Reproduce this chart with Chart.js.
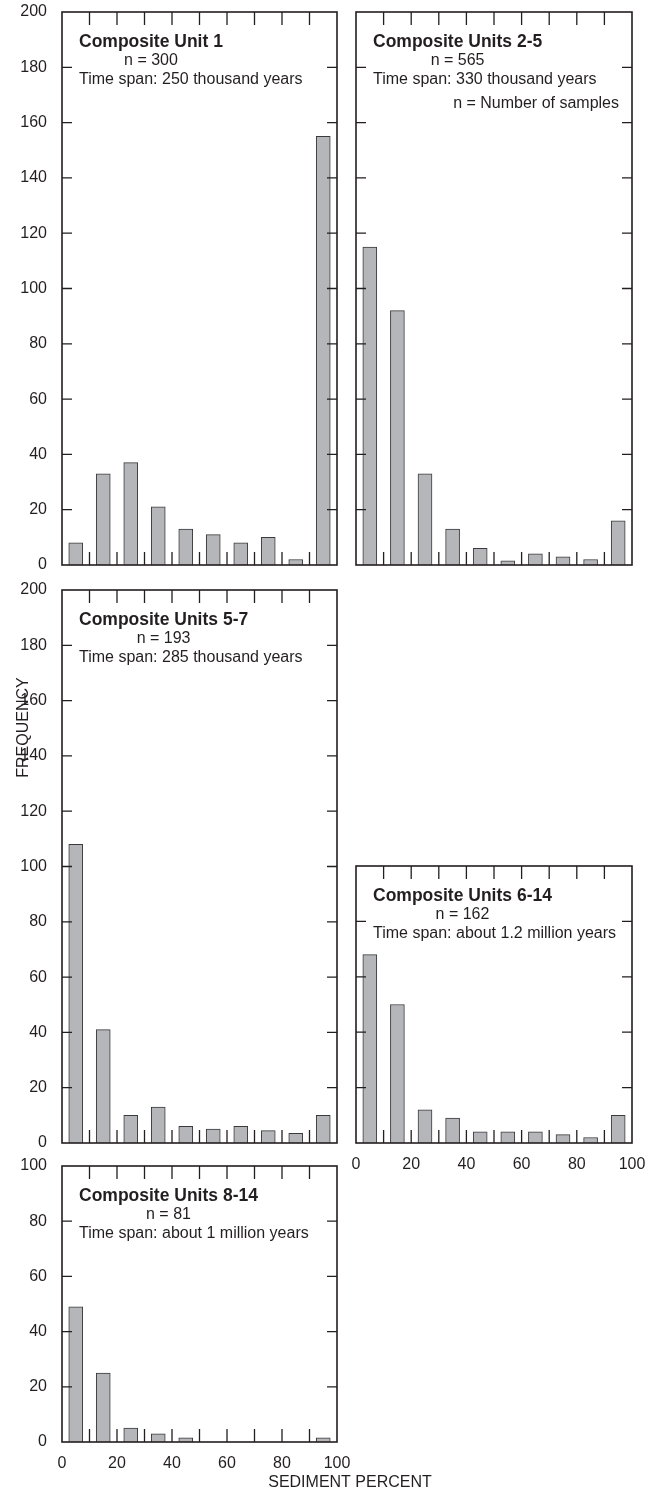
<!DOCTYPE html>
<html>
<head>
<meta charset="utf-8">
<title>Sediment percent frequency</title>
<script src="https://cdn.jsdelivr.net/npm/chart.js@4.4.1/dist/chart.umd.min.js"></script>
<style>
  body { margin: 0; background: #fff; }
  #fig { position: relative; width: 652px; height: 1496px; }
  #fig canvas { position: absolute; }
</style>
</head>
<body>
<div id="fig">
  <canvas id="unit1" width="345" height="580" style="left:0;top:0"></canvas>
  <canvas id="units2to5" width="307" height="580" style="left:345px;top:0"></canvas>
  <canvas id="units5to7" width="345" height="575" style="left:0;top:580px"></canvas>
  <canvas id="units6to14" width="307" height="330" style="left:345px;top:850px"></canvas>
  <canvas id="units8to14" width="652" height="341" style="left:0;top:1155px"></canvas>
</div>
<script>
// sediment percent classes (bin midpoints) and sample counts per class
const bins = [5, 15, 25, 35, 45, 55, 65, 75, 85, 95];
const unit1 = [8, 33, 37, 21, 13, 11, 8, 10, 2, 155];
const units2to5 = [115, 92, 33, 13, 6, 1.5, 4, 3, 2, 16];
const units5to7 = [108, 41, 10, 13, 6, 5, 6, 4.5, 3.5, 10];
const units6to14 = [68, 50, 12, 9, 4, 4, 4, 3, 2, 10];
const units8to14 = [49, 25, 5, 3, 1.5, 0, 0, 0, 0, 1.5];

const titles = ['Composite Unit 1', 'Composite Units 2-5', 'Composite Units 5-7',
  'Composite Units 6-14', 'Composite Units 8-14'];
const sampleCounts = [300, 565, 193, 162, 81];
const timeSpans = ['Time span: 250 thousand years', 'Time span: 330 thousand years',
  'Time span: 285 thousand years', 'Time span: about 1.2 million years',
  'Time span: about 1 million years'];

const INK = '#231f20';
const FONT = "'Liberation Sans', Arial, sans-serif";
Chart.defaults.font.family = FONT;
Chart.defaults.font.size = 16;
Chart.defaults.color = INK;

// box around the plot, inward tick marks and the panel captions
const frame = {
  id: 'frame',
  afterDatasetsDraw(chart, args, opts) {
    const ctx = chart.ctx;
    const a = chart.chartArea;
    const x = chart.scales.x, y = chart.scales.y;
    ctx.save();
    ctx.strokeStyle = INK;
    ctx.lineWidth = 1.3;
    ctx.beginPath();
    for (let v = 10; v < 100; v += 10) {
      const px = x.getPixelForValue(v);
      ctx.moveTo(px, a.top); ctx.lineTo(px, a.top + 13);
      ctx.moveTo(px, a.bottom); ctx.lineTo(px, a.bottom - 13);
    }
    y.ticks.forEach(t => {
      if (t.value <= y.min || t.value >= y.max) return;
      const py = y.getPixelForValue(t.value);
      ctx.moveTo(a.left, py); ctx.lineTo(a.left + 10, py);
      ctx.moveTo(a.right, py); ctx.lineTo(a.right - 10, py);
    });
    ctx.stroke();
    ctx.lineWidth = 1.6;
    ctx.strokeRect(a.left, a.top, a.right - a.left, a.bottom - a.top);

    ctx.fillStyle = INK;
    const tx = a.left + 17;
    ctx.font = 'bold 17.5px ' + FONT;
    ctx.textAlign = 'left';
    ctx.fillText(opts.title, tx, a.top + 35);
    const tw = ctx.measureText(opts.title).width;
    ctx.font = '16px ' + FONT;
    ctx.textAlign = 'center';
    ctx.fillText('n = ' + opts.n, tx + tw / 2, a.top + 53);
    ctx.textAlign = 'left';
    ctx.fillText(opts.span, tx, a.top + 72);
    if (opts.note) {
      ctx.textAlign = 'right';
      ctx.fillText(opts.note, a.right - 13, a.top + 96);
    }
    if (opts.yTitle) {
      ctx.save();
      ctx.translate(opts.yTitle.x, opts.yTitle.y);
      ctx.rotate(-Math.PI / 2);
      ctx.textAlign = 'center';
      ctx.textBaseline = 'middle';
      ctx.fillText(opts.yTitle.text, 0, 0);
      ctx.restore();
    }
    if (opts.xTitle) {
      ctx.textAlign = 'center';
      ctx.textBaseline = 'middle';
      ctx.fillText(opts.xTitle.text, opts.xTitle.x, opts.xTitle.y);
    }
    ctx.restore();
  }
};

function makePanel(id, counts, p) {
  return new Chart(document.getElementById(id), {
    type: 'bar',
    data: {
      datasets: [{
        data: bins.map((b, i) => ({ x: b, y: counts[i] })),
        backgroundColor: '#b5b6ba',
        borderColor: '#3a3a3c',
        borderWidth: 1,
        barThickness: 14
      }]
    },
    options: {
      responsive: false,
      animation: false,
      layout: { padding: p.pad },
      plugins: {
        legend: { display: false },
        tooltip: { enabled: false },
        frame: p.text
      },
      scales: {
        x: {
          type: 'linear', min: 0, max: 100, offset: false,
          display: p.xLabels,
          grid: { display: false },
          border: { display: false },
          ticks: { stepSize: 20, padding: 4, maxRotation: 0 },
          afterFit: s => {
            if (!p.xLabels) return;
            s.height = p.xHeight;
            s.paddingLeft = 0; s.paddingRight = 0;
          }
        },
        y: {
          type: 'linear', min: 0, max: p.yMax,
          display: p.yLabels,
          grid: { display: false },
          border: { display: false },
          ticks: { stepSize: 20, padding: 7 },
          afterFit: s => {
            if (!p.yLabels) return;
            s.width = 62;
            s.paddingTop = 0; s.paddingBottom = 0;
          }
        }
      }
    },
    plugins: [frame]
  });
}

makePanel('unit1', unit1, {
  yMax: 200, yLabels: true, xLabels: false,
  pad: { left: 0, right: 8, top: 12, bottom: 15 },
  text: { title: titles[0], n: sampleCounts[0], span: timeSpans[0] }
});
makePanel('units2to5', units2to5, {
  yMax: 200, yLabels: false, xLabels: false,
  pad: { left: 11, right: 20, top: 12, bottom: 15 },
  text: { title: titles[1], n: sampleCounts[1], span: timeSpans[1], note: 'n = Number of samples' }
});
makePanel('units5to7', units5to7, {
  yMax: 200, yLabels: true, xLabels: false,
  pad: { left: 0, right: 8, top: 10, bottom: 12 },
  text: { title: titles[2], n: sampleCounts[2], span: timeSpans[2],
    yTitle: { text: 'FREQUENCY', x: 24, y: 147.5 } }
});
makePanel('units6to14', units6to14, {
  yMax: 100, yLabels: false, xLabels: true, xHeight: 37,
  pad: { left: 11, right: 20, top: 16, bottom: 0 },
  text: { title: titles[3], n: sampleCounts[3], span: timeSpans[3] }
});
makePanel('units8to14', units8to14, {
  yMax: 100, yLabels: true, xLabels: true, xHeight: 54,
  pad: { left: 0, right: 315, top: 11, bottom: 0 },
  text: { title: titles[4], n: sampleCounts[4], span: timeSpans[4],
    xTitle: { text: 'SEDIMENT PERCENT', x: 350, y: 328 } }
});
</script>
</body>
</html>
